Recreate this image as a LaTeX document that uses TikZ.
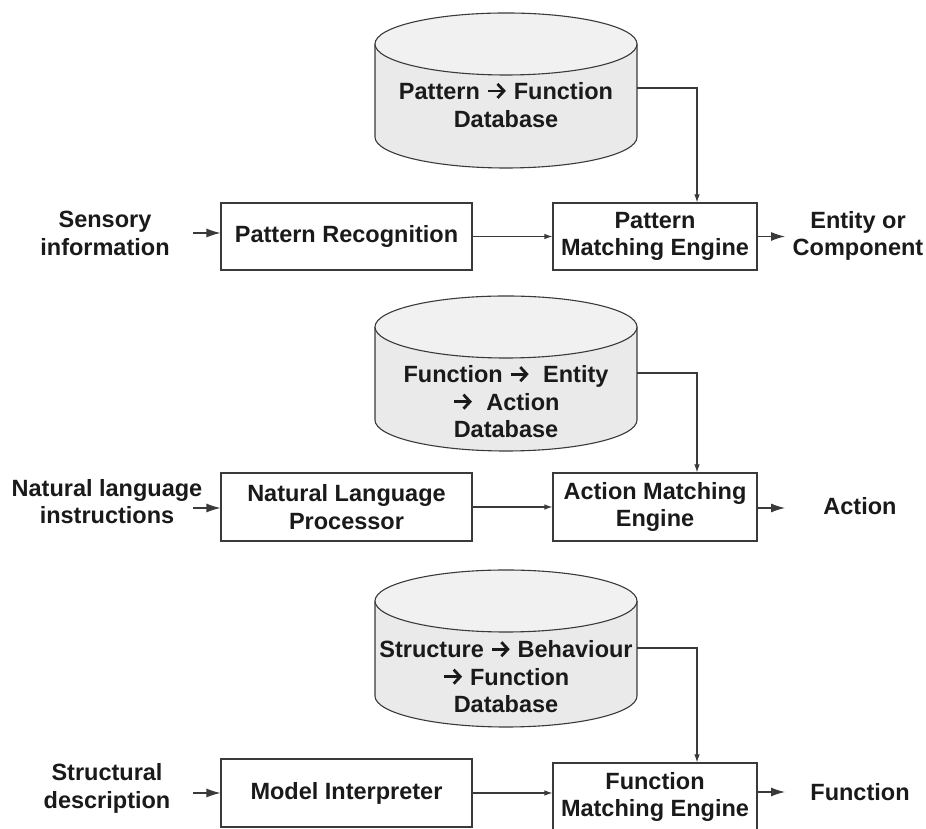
\documentclass[tikz,border=0pt]{standalone}
\usepackage{fontspec}
\setmainfont{Liberation Sans}
\usetikzlibrary{arrows.meta}
\definecolor{lncol}{HTML}{3A3A3A}
\definecolor{txtcol}{HTML}{1A1A1A}
\definecolor{dbfill}{HTML}{EAEAEA}
\definecolor{dbtop}{HTML}{F1F1F1}
\newcommand\rar{\tikz[baseline=0pt]{\draw[draw=txtcol,line width=2.8pt,-{Straight Barb[length=6.5pt,width=14pt,line width=2.8pt]}] (0pt,8.8pt) -- (18pt,8.8pt);}}
\newcommand\drawdbcyl[2]{%
  \fill[fill=dbfill] (375,#1) -- (375,#2) arc[start angle=180,end angle=360,x radius=131pt,y radius=31pt] -- (637,#1) -- cycle;
  \draw[ln] (375,#1) -- (375,#2) arc[start angle=180,end angle=360,x radius=131pt,y radius=31pt] -- (637,#1);
  \draw[ln,fill=dbtop] (506,#1) ellipse[x radius=131pt,y radius=31pt];}
\tikzset{
  ln/.style={draw=lncol,line width=1.1pt},
  lbl/.style={font=\bfseries\fontsize{23.5}{27.5}\selectfont,text=txtcol,align=center,inner sep=0pt},
  procbox/.style={lbl,draw=lncol,line width=1.1pt,fill=white,minimum width=251pt,minimum height=67pt},
  engbox/.style={lbl,draw=lncol,line width=1.1pt,fill=white,minimum width=204pt,minimum height=67pt},
  smallarr/.style={ln,-{Latex[length=8pt,width=5.5pt]}},
  bigarr/.style={ln,-{Latex[length=14pt,width=9pt]}}
}
\begin{document}
\begin{tikzpicture}[x=1pt,y=1pt]
\useasboundingbox (0,0) rectangle (926,829);
\fill[white] (0,0) rectangle (926,829);

% ---- databases ----
\drawdbcyl{785}{692}
\drawdbcyl{502}{409}
\drawdbcyl{228}{133}
\node[lbl] (db1) at (506,724) {Pattern \rar\ Function\\Database};
\node[lbl] (db2) at (506,427) {Function \rar\ \ Entity\\\rar\ \ Action\\Database};
\node[lbl] (db3) at (506,152) {Structure \rar\ Behaviour\\\rar\ Function\\Database};
\coordinate (db1e) at (637,741);
\coordinate (db2e) at (637,456);
\coordinate (db3e) at (637,181);

% ---- row 1 ----
\node[procbox] (pr) at (346.5,592.5) {Pattern Recognition};
\node[engbox] (pme) at (655,592.5) {Pattern\\Matching Engine};
\node[lbl] (in1) at (105,595.5) {Sensory\\information};
\node[lbl] (out1) at (858,593) {Entity or\\Component};
\coordinate (in1e) at (193,596);
\coordinate (out1e) at (785,592.5);
\draw[bigarr] (in1e) -- (pr.west |- in1e);
\draw[smallarr] (pr) -- (pme);
\draw[bigarr] (pme.east) -- (out1e);
\draw[smallarr] (db1e) -| ([xshift=42pt]pme.north);

% ---- row 2 ----
\node[procbox,minimum height=68pt] (nlp) at (346.5,322) {Natural Language\\Processor};
\node[engbox,minimum height=68pt] (ame) at (655,322) {Action Matching\\Engine};
\node[lbl] (in2) at (107,327.5) {Natural language\\instructions};
\node[lbl] (out2) at (860,323) {Action};
\coordinate (in2e) at (193,321);
\coordinate (out2e) at (785,321);
\draw[bigarr] (in2e) -- (nlp.west |- in2e);
\draw[smallarr] (nlp) -- (ame);
\draw[bigarr] (ame.east |- out2e) -- (out2e);
\draw[smallarr] (db2e) -| ([xshift=42pt]ame.north);

% ---- row 3 ----
\node[procbox,minimum height=68pt] (mi) at (346.5,36) {Model Interpreter};
\node[engbox,minimum height=68pt] (fme) at (655,32) {Function\\Matching Engine};
\node[lbl] (in3) at (107,40.5) {Structural\\description};
\node[lbl] (out3) at (860,37) {Function};
\coordinate (in3e) at (193,36);
\coordinate (out3e) at (785,37);
\draw[bigarr] (in3e) -- (mi.west |- in3e);
\draw[smallarr] (mi.east) -- (fme.west |- mi.east);
\draw[bigarr] (fme.east |- out3e) -- (out3e);
\draw[smallarr] (db3e) -| ([xshift=42pt]fme.north);
\end{tikzpicture}
\end{document}
